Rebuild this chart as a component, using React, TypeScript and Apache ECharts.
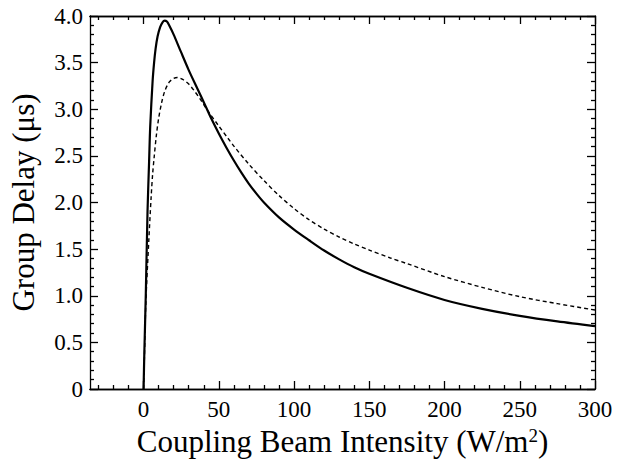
import React, { useEffect, useRef } from "react";
import * as echarts from "echarts";

// Solid curve
const solidX = [0, 0.5, 1.5, 2.65, 3.7, 4.4, 6, 7, 8, 9.3, 11, 12.5, 14, 15.5, 17, 20, 24.7, 30, 35.8, 41.3, 45, 50, 55, 60, 65, 70, 75, 80, 90, 100, 110, 120, 130, 140, 150, 175, 200, 225, 250, 275, 300];
const solidY = [0, 0.38, 1.03, 1.92, 2.45, 2.81, 3.3, 3.5, 3.65, 3.78, 3.88, 3.93, 3.95, 3.94, 3.9, 3.8, 3.62, 3.42, 3.22, 3.03, 2.9, 2.74, 2.59, 2.45, 2.32, 2.2, 2.095, 2.0, 1.84, 1.71, 1.595, 1.485, 1.39, 1.305, 1.235, 1.085, 0.955, 0.86, 0.785, 0.725, 0.675];

// Dashed curve
const dashX = [0, 0.5, 1.5, 3.5, 5, 6, 7, 8.5, 10, 12, 14, 17, 20, 22.5, 26, 30, 33.6, 38, 42.4, 50, 56, 60, 70, 80, 90, 100, 110, 120, 130, 140, 150, 164, 175, 200, 225, 250, 275, 300];
const dashY = [0, 0.3, 0.92, 1.6, 2.05, 2.3, 2.48, 2.72, 2.9, 3.07, 3.19, 3.29, 3.33, 3.34, 3.32, 3.27, 3.2, 3.1, 2.99, 2.82, 2.69, 2.605, 2.41, 2.235, 2.075, 1.935, 1.815, 1.715, 1.63, 1.555, 1.49, 1.405, 1.345, 1.205, 1.09, 0.99, 0.915, 0.847];

const xMajorTicks = [0, 50, 100, 150, 200, 250, 300];
const xMinorTicks = [-30, -20, -10, 10, 20, 30, 40, 60, 70, 80, 90, 110, 120, 130, 140, 160, 170, 180, 190, 210, 220, 230, 240, 260, 270, 280, 290];
const xMin = -35.6;
const xMax = 300;
const yMin = 0;
const yMax = 4;
const yInterval = 0.5;

const FONT = "'Liberation Serif', 'Times New Roman', serif";

export default function App() {
  const ref = useRef<HTMLDivElement>(null);
  useEffect(() => {
    if (!ref.current) return;
    const chart = echarts.init(ref.current, undefined, { renderer: "svg" });
    const solid = solidX.map((x, i) => [x, solidY[i]]);
    const dashed = dashX.map((x, i) => [x, dashY[i]]);
    const lineStyle = { color: "#000", width: 1.3 };
    const baseX = (pos: string, major: boolean, labels: boolean, extra: any = {}) => ({
      type: "value",
      position: pos,
      min: xMin,
      max: xMax,
      axisLine: { show: true, onZero: false, lineStyle },
      splitLine: { show: false },
      axisTick: {
        show: true,
        inside: true,
        length: major ? 8 : 4,
        customValues: major ? xMajorTicks : xMinorTicks,
        lineStyle,
      },
      axisLabel: labels
        ? { show: true, customValues: xMajorTicks, fontFamily: FONT, fontSize: 23, color: "#000", margin: 9 }
        : { show: false },
      ...extra,
    });
    const baseY = (pos: string, labels: boolean, extra: any = {}) => ({
      type: "value",
      position: pos,
      min: yMin,
      max: yMax,
      interval: yInterval,
      axisLine: { show: true, onZero: false, lineStyle },
      splitLine: { show: false },
      axisTick: { show: true, inside: true, length: 8, lineStyle },
      minorTick: { show: true, splitNumber: 5, length: 4, lineStyle },
      minorSplitLine: { show: false },
      axisLabel: labels
        ? {
            show: true,
            fontFamily: FONT,
            fontSize: 23,
            color: "#000",
            margin: 7,
            formatter: (v: number) => (v === 0 ? "0" : v.toFixed(1)),
          }
        : { show: false },
      ...extra,
    });
    chart.setOption({
      animation: false,
      backgroundColor: "#fff",
      grid: { left: 89, top: 16, width: 506, height: 373, containLabel: false },
      xAxis: [
        baseX("bottom", true, true, {
          name: "Coupling Beam Intensity (W/m{sup|2})",
          nameLocation: "middle",
          nameGap: 36,
          nameTextStyle: {
            fontFamily: FONT,
            fontSize: 31,
            color: "#000",
            rich: {
              sup: { fontFamily: FONT, fontSize: 19, color: "#000", verticalAlign: "top", padding: [0, 0, 12, 0] },
            },
          },
        }),
        baseX("bottom", false, false),
        baseX("top", true, false),
        baseX("top", false, false),
      ],
      yAxis: [
        baseY("left", true, {
          name: "Group Delay (μs)",
          nameLocation: "middle",
          nameGap: 51,
          nameTextStyle: { fontFamily: FONT, fontSize: 31, color: "#000" },
        }),
        baseY("right", false),
      ],
      series: [
        {
          type: "line",
          xAxisIndex: 0,
          yAxisIndex: 0,
          data: solid,
          showSymbol: false,
          smooth: 0.3,
          lineStyle: { color: "#000", width: 2.2 },
          clip: true,
        },
        {
          type: "line",
          xAxisIndex: 0,
          yAxisIndex: 0,
          data: dashed,
          showSymbol: false,
          smooth: 0.3,
          lineStyle: { color: "#000", width: 1.4, type: [4, 3] },
          clip: true,
        },
      ],
    });
    return () => chart.dispose();
  }, []);
  return <div ref={ref} style={{ position: "fixed", left: 0, top: 0, width: 626, height: 464 }} />;
}
